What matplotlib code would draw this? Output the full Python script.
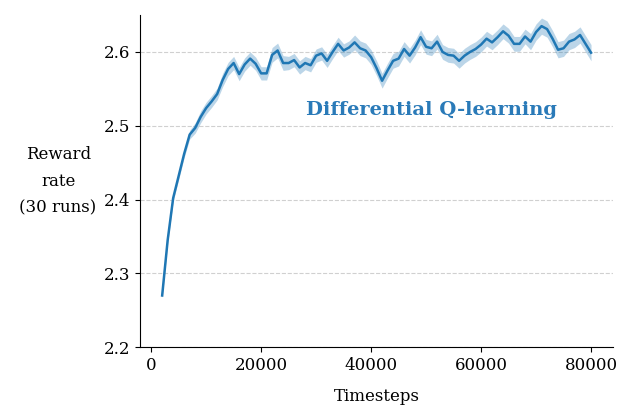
import numpy as np
import matplotlib.pyplot as plt

# Reward rate of Differential Q-learning, mean over 30 runs
timesteps = list(range(2000, 80001, 1000))
reward_rate = [
    2.270, 2.345, 2.402, 2.432, 2.462, 2.488, 2.497, 2.512, 2.524, 2.533,
    2.543, 2.562, 2.577, 2.585, 2.570, 2.583, 2.591, 2.584, 2.571, 2.571,
    2.596, 2.602, 2.585, 2.585, 2.589, 2.579, 2.585, 2.582, 2.595, 2.598,
    2.588, 2.600, 2.611, 2.602, 2.606, 2.613, 2.605, 2.602, 2.593, 2.578,
    2.561, 2.575, 2.588, 2.591, 2.604, 2.595, 2.606, 2.620, 2.607, 2.605,
    2.614, 2.600, 2.596, 2.595, 2.588, 2.595, 2.600, 2.604, 2.610, 2.618,
    2.613, 2.620, 2.628, 2.622, 2.611, 2.611, 2.621, 2.614, 2.627, 2.635,
    2.631, 2.618, 2.603, 2.605, 2.614, 2.617, 2.623, 2.611, 2.599,
]
# standard error (half-width of the shaded band)
std_err = [
    0.003, 0.004, 0.004, 0.005, 0.005, 0.006, 0.007, 0.008, 0.008, 0.008,
    0.008, 0.009, 0.009, 0.009, 0.009, 0.009, 0.009, 0.009, 0.009, 0.009,
    0.010, 0.010, 0.010, 0.009, 0.009, 0.009, 0.009, 0.009, 0.009, 0.009,
    0.009, 0.009, 0.009, 0.009, 0.009, 0.010, 0.010, 0.010, 0.010, 0.010,
    0.010, 0.010, 0.010, 0.010, 0.010, 0.010, 0.010, 0.010, 0.010, 0.010,
    0.010, 0.010, 0.010, 0.010, 0.010, 0.010, 0.010, 0.010, 0.010, 0.010,
    0.010, 0.010, 0.010, 0.010, 0.010, 0.010, 0.010, 0.011, 0.011, 0.011,
    0.011, 0.011, 0.011, 0.011, 0.011, 0.011, 0.011, 0.011, 0.011,
]

x = np.array(timesteps)
y = np.array(reward_rate)
err = np.array(std_err)

plt.rcParams['font.family'] = ['DejaVu Serif']
plt.rcParams['font.size'] = 12

fig = plt.figure(figsize=(6.23, 4.07), dpi=100)
ax = fig.add_axes([0.225, 0.147, 0.759, 0.816])

color = '#1f77b4'
ax.fill_between(x, y - err, y + err, color=color, alpha=0.3, linewidth=0)
ax.plot(x, y, color=color, linewidth=1.8)

ax.set_xlim(-2000, 84000)
ax.set_ylim(2.2, 2.65)
ax.set_xticks([0, 20000, 40000, 60000, 80000])
ax.set_yticks([2.2, 2.3, 2.4, 2.5, 2.6])
ax.yaxis.grid(True, linestyle='--', color='#d0d0d0', linewidth=0.8)
ax.set_axisbelow(True)

ax.spines['top'].set_visible(False)
ax.spines['right'].set_visible(False)

ax.set_xlabel("Timesteps", labelpad=10)
ax.set_ylabel("Reward\nrate\n(30 runs)", rotation=0, ha='center', va='center',
              labelpad=33, linespacing=1.75)

ax.text(50900, 2.521, "Differential Q-learning", color='#2a7ab8',
        fontsize=14, fontweight='bold', ha='center', va='center')

plt.savefig("out.png", dpi=100)
